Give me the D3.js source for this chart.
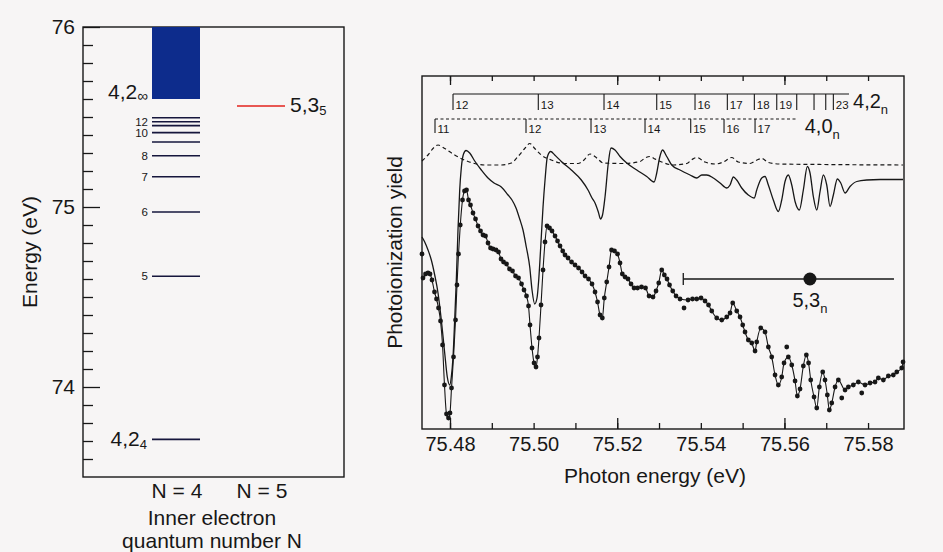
<!DOCTYPE html>
<html>
<head>
<meta charset="utf-8">
<script src="https://cdn.jsdelivr.net/npm/d3@7"></script>
<style>
  body { margin: 0; background: #f7f5f5; }
  svg { display: block; font-family: "Liberation Sans", Arial, Helvetica, sans-serif; }
</style>
</head>
<body>
<svg id="fig" width="943" height="552"></svg>
<script>
// ---------- left panel data: Rydberg levels (eV) ----------
const levelN = [4, 5, 6, 7, 8, 9, 10, 11, 12, 13];
const levelE = [73.709, 74.615, 74.972, 75.168, 75.285, 75.361, 75.413, 75.452, 75.474, 75.496];
const levelText = ["", "5", "6", "7", "8", "", "10", "", "12", ""];
const limit42 = 75.6;      // 4,2 series limit
const continuumTop = 76;
const level535 = 75.561;   // 5,3_5 perturber
const energyTicks = [74, 75, 76];
const columnN = [4, 5];

// ---------- right panel data ----------
const photonTicks = [75.48, 75.49, 75.50, 75.51, 75.52, 75.53, 75.54, 75.55, 75.56, 75.57, 75.58];
const photonLongTicks = [75.48, 75.52, 75.56];

// measured photoionization yield (arb. units)
const measured = [[75.47354,151],[75.47414,155],[75.47474,156],[75.47522,155],[75.47569,149],[75.47629,137],[75.47677,130],[75.47725,121],[75.47773,108],[75.47821,84],[75.47868,44],[75.47916,15],[75.47964,11],[75.48000,16],[75.48036,41],[75.48084,72],[75.48132,109],[75.48167,144],[75.48203,175],[75.48246,204],[75.48299,229],[75.48347,238],[75.48395,239],[75.48443,229],[75.48490,224],[75.48550,216],[75.48610,210],[75.48670,203],[75.48730,198],[75.48789,194],[75.48849,193],[75.48909,186],[75.48969,181],[75.49029,180],[75.49100,179],[75.49160,177],[75.49220,170],[75.49280,167],[75.49352,165],[75.49423,160],[75.49495,158],[75.49567,153],[75.49639,151],[75.49711,145],[75.49770,139],[75.49830,133],[75.49878,123],[75.49914,104],[75.49962,81],[75.50010,66],[75.50057,62],[75.50093,72],[75.50129,91],[75.50177,124],[75.50225,159],[75.50273,187],[75.50321,203],[75.50380,201],[75.50440,198],[75.50512,193],[75.50572,188],[75.50632,183],[75.50696,178],[75.50751,174],[75.50823,171],[75.50907,167],[75.50990,164],[75.51074,161],[75.51158,157],[75.51230,153],[75.51313,150],[75.51397,145],[75.51469,137],[75.51529,127],[75.51589,114],[75.51644,111],[75.51691,131],[75.51749,147],[75.51804,162],[75.51864,179],[75.51935,178],[75.52007,175],[75.52067,166],[75.52122,155],[75.52187,152],[75.52258,150],[75.52330,145],[75.52402,141],[75.52486,141],[75.52581,142],[75.52677,141],[75.52761,133],[75.52856,132],[75.52928,138],[75.52993,146],[75.53065,159],[75.53127,154],[75.53191,150],[75.53251,144],[75.53328,138],[75.53407,133],[75.53502,130],[75.53694,129],[75.53801,130],[75.53902,130],[75.54005,131],[75.54100,128],[75.54184,124],[75.54261,118],[75.54380,111],[75.54500,109],[75.54620,112],[75.54699,116],[75.54763,126],[75.54859,118],[75.54938,112],[75.55002,104],[75.55057,97],[75.55136,89],[75.55218,86],[75.55297,78],[75.55337,87],[75.55433,101],[75.55536,97],[75.55615,82],[75.55696,72],[75.55775,54],[75.55854,44],[75.55935,52],[75.55990,66],[75.56093,72],[75.56175,64],[75.56254,48],[75.56309,33],[75.56373,40],[75.56452,63],[75.56524,74],[75.56577,66],[75.56629,49],[75.56708,32],[75.56773,21],[75.56835,42],[75.56916,57],[75.56971,49],[75.57026,34],[75.57074,19],[75.57132,26],[75.57211,42],[75.57290,49],[75.57450,39],[75.57529,42],[75.57648,44],[75.57768,47],[75.57928,44],[75.58048,46],[75.58167,47],[75.58246,51],[75.58366,49],[75.58486,53],[75.58605,54],[75.58687,57],[75.58806,61],[75.58837,67]];
const strayPoints = [[75.47330,175],[75.53598,121],[75.56055,82],[75.57371,31],[75.57849,36]];

// calculated spectrum, solid
const theory = [[75.47330,192],[75.47395,187],[75.47474,179],[75.47553,169],[75.47634,154],[75.47713,136],[75.47792,109],[75.47873,76],[75.47935,52],[75.47993,44],[75.48031,52],[75.48072,72],[75.48112,109],[75.48151,149],[75.48191,199],[75.48232,239],[75.48270,261],[75.48323,275],[75.48383,278.5],[75.48471,276],[75.48591,268],[75.48749,259],[75.48909,251],[75.49053,246],[75.49227,242],[75.49388,234],[75.49483,229],[75.49579,221],[75.49667,210],[75.49746,199],[75.49825,182],[75.49907,162],[75.49962,139],[75.50026,125],[75.50081,131],[75.50122,149],[75.50170,182],[75.50225,222],[75.50273,249],[75.50328,272],[75.50409,277.5],[75.50505,274],[75.50663,267.5],[75.50902,259],[75.51141,249],[75.51301,239],[75.51397,231],[75.51469,226],[75.51548,217],[75.51600,210],[75.51648,214],[75.51708,232],[75.51787,266],[75.51852,281],[75.51947,279],[75.52067,272.5],[75.52227,266],[75.52467,259],[75.52706,252.5],[75.52880,247],[75.52945,256],[75.53012,271],[75.53084,279],[75.53184,272.5],[75.53304,264],[75.53502,259],[75.53742,254],[75.53902,251],[75.54022,254],[75.54141,254],[75.54299,251],[75.54459,246],[75.54620,241],[75.54699,244],[75.54778,252],[75.54859,249],[75.54978,241],[75.55136,234],[75.55280,231],[75.55337,239],[75.55457,251],[75.55536,252.5],[75.55615,244],[75.55734,229],[75.55854,217.5],[75.55935,229],[75.56014,247.5],[75.56093,254],[75.56175,244],[75.56254,227.5],[75.56357,219],[75.56452,239],[75.56548,262.5],[75.56612,256],[75.56691,232.5],[75.56773,219],[75.56852,237.5],[75.56931,254],[75.57012,244],[75.57091,222.5],[75.57170,234],[75.57266,250],[75.57347,246],[75.57450,236],[75.57569,242.5],[75.57730,247.5],[75.57969,249],[75.58287,249.5],[75.58837,249.5]];

// calculated spectrum, dashed
const theoryDashed = [[75.47330,268],[75.47474,274],[75.47593,280.5],[75.47713,284],[75.47873,280.5],[75.48112,274],[75.48431,267.5],[75.48830,264],[75.49227,264],[75.49467,266],[75.49627,272.5],[75.49787,280.5],[75.49907,285.5],[75.50026,280.5],[75.50184,274],[75.50423,269],[75.50744,265.5],[75.51062,265.5],[75.51206,269],[75.51349,275],[75.51510,271],[75.51667,266],[75.52146,265.5],[75.52545,267.5],[75.52665,271],[75.52785,272.5],[75.52904,270],[75.53065,267],[75.53342,264],[75.53663,265.5],[75.53789,269.5],[75.53902,271.5],[75.54100,267],[75.54340,265],[75.54538,267],[75.54739,271.5],[75.54897,267],[75.55177,265.5],[75.55344,269],[75.55457,270.5],[75.55615,266.5],[75.55895,265],[75.56931,264.5],[75.58837,264]];

// series markers
const series42N = [12, 13, 14, 15, 16, 17, 18, 19, 20, 21, 22, 23];
const series42E = [75.48072, 75.50112, 75.51684, 75.52945, 75.53861, 75.54634, 75.55280, 75.55816, 75.56294, 75.56708, 75.56988, 75.57170];
const series42Shown = [12, 13, 14, 15, 16, 17, 18, 19, 23];
const series42End = 75.57545;
const series40N = [11, 12, 13, 14, 15, 16, 17];
const series40E = [75.47641, 75.49818, 75.51373, 75.52665, 75.53758, 75.54555, 75.55297];
const series40End = 75.56294;

// 5,3_n perturber position with width
const perturberE = 75.5661;
const perturberLo = 75.5358;
const perturberHi = 75.5862;
const perturberYield = 150;

// ---------- drawing ----------
const ink = "#171717";
const svg = d3.select("#fig");
svg.append("rect").attr("width", 943).attr("height", 552).attr("fill", "#f7f5f5");

function subText(g, x, y, main, sub, opt) {
  const o = Object.assign({ size: 21, subSize: 13, subDy: 5, anchor: "start" }, opt || {});
  const t = g.append("text")
      .attr("x", x).attr("y", y)
      .attr("text-anchor", o.anchor)
      .attr("fill", ink)
      .attr("font-size", o.size);
  t.append("tspan").text(main);
  t.append("tspan").attr("dy", o.subDy).attr("font-size", o.subSize).text(sub);
  return t;
}

// ===== left panel =====
const L = { left: 83, top: 27, width: 261, height: 450 };
const yE = d3.scaleLinear().domain([73.5, continuumTop]).range([L.top + L.height, L.top]);
const xN = d3.scaleLinear().domain([4, 5]).range([176, 261]);
const lp = svg.append("g");

// minor ticks every 0.1 eV
const minorE = d3.range(736, 760).map(d => d / 10).filter(d => Math.abs(d - Math.round(d)) > 0.01);
lp.append("g")
    .attr("transform", `translate(${L.left},0)`)
    .call(d3.axisLeft(yE).tickValues(minorE).tickSize(-10).tickFormat(""));
const majorAxis = lp.append("g")
    .attr("transform", `translate(${L.left},0)`)
    .call(d3.axisLeft(yE).tickValues(energyTicks).tickSize(-17).tickPadding(8).tickFormat(d3.format("d")));
lp.selectAll(".domain").remove();
lp.selectAll(".tick line").attr("stroke", ink).attr("stroke-width", 1.3);
majorAxis.selectAll("text").attr("font-size", 21).attr("fill", ink)
    .attr("font-family", "Liberation Sans, Arial, sans-serif");

lp.append("rect")
    .attr("x", L.left).attr("y", L.top)
    .attr("width", L.width).attr("height", L.height)
    .attr("fill", "none").attr("stroke", ink).attr("stroke-width", 1.4);

// continuum above the 4,2 limit
const halfW = 24;
lp.append("rect")
    .attr("x", xN(4) - halfW).attr("y", yE(continuumTop))
    .attr("width", halfW * 2).attr("height", yE(limit42) - yE(continuumTop))
    .attr("fill", "#0d2c8c");

// bound levels
lp.selectAll(".lvl")
    .data(levelE)
    .join("line")
    .attr("class", "lvl")
    .attr("x1", xN(4) - halfW).attr("x2", xN(4) + halfW)
    .attr("y1", d => yE(d)).attr("y2", d => yE(d))
    .attr("stroke", "#16163c").attr("stroke-width", 1.6);

lp.selectAll(".lvlLabel")
    .data(levelE.map((e, i) => ({ e, t: levelText[i] })).filter(d => d.t !== ""))
    .join("text")
    .attr("class", "lvlLabel")
    .attr("x", xN(4) - halfW - 4)
    .attr("y", d => yE(d.e))
    .attr("dy", "0.34em")
    .attr("text-anchor", "end")
    .attr("font-size", 11.5)
    .attr("fill", ink)
    .text(d => d.t);

subText(lp, xN(4) - halfW - 4, yE(limit42), "4,2", "\u221E", { anchor: "end", subSize: 15, subDy: 2 });
subText(lp, xN(4) - halfW - 5, yE(levelE[0]) + 7, "4,2", "4", { anchor: "end", subDy: 3 });

// 5,3_5 level
lp.append("line")
    .attr("x1", xN(5) - halfW).attr("x2", xN(5) + halfW)
    .attr("y1", yE(level535)).attr("y2", yE(level535))
    .attr("stroke", "#e3221d").attr("stroke-width", 1.4);
subText(lp, xN(5) + halfW + 5, yE(level535) + 6, "5,3", "5", { subDy: 3 });

// x labels and titles
lp.selectAll(".colLabel")
    .data(columnN)
    .join("text")
    .attr("class", "colLabel")
    .attr("x", d => xN(d) + 1)
    .attr("y", 498)
    .attr("text-anchor", "middle")
    .attr("font-size", 21)
    .attr("fill", ink)
    .text(d => `N = ${d}`);
lp.append("text").attr("x", 212).attr("y", 525).attr("text-anchor", "middle")
    .attr("font-size", 21).attr("fill", ink).text("Inner electron");
lp.append("text").attr("x", 212).attr("y", 548).attr("text-anchor", "middle")
    .attr("font-size", 21).attr("fill", ink).text("quantum number N");
lp.append("text")
    .attr("transform", `translate(37,${L.top + L.height / 2}) rotate(-90)`)
    .attr("text-anchor", "middle").attr("font-size", 21).attr("fill", ink)
    .text("Energy (eV)");

// ===== right panel =====
const R = { left: 422, top: 76, width: 482, height: 353 };
const xP = d3.scaleLinear().domain([75.4733, 75.5886]).range([R.left, R.left + R.width]);
const yY = d3.scaleLinear().domain([0, 353]).range([R.top + R.height, R.top]);
const rp = svg.append("g");

const bottomAxis = rp.append("g")
    .attr("transform", `translate(0,${R.top + R.height})`)
    .call(d3.axisBottom(xP).tickValues(photonTicks).tickSize(-6).tickPadding(8)
        .tickFormat(d => (Math.round(d * 100) % 2 === 0 ? d3.format(".2f")(d) : "")));
rp.append("g")
    .attr("transform", `translate(0,${R.top + R.height})`)
    .call(d3.axisBottom(xP).tickValues(photonLongTicks).tickSize(-11).tickFormat(""));
rp.append("g")
    .attr("transform", `translate(0,${R.top})`)
    .call(d3.axisTop(xP).tickValues(photonTicks).tickSize(-5).tickFormat(""));
rp.append("g")
    .attr("transform", `translate(0,${R.top})`)
    .call(d3.axisTop(xP).tickValues(photonLongTicks).tickSize(-9).tickFormat(""));
rp.selectAll(".domain").remove();
rp.selectAll(".tick line").attr("stroke", ink).attr("stroke-width", 1.3);
bottomAxis.selectAll("text").attr("font-size", 20).attr("fill", ink)
    .attr("font-family", "Liberation Sans, Arial, sans-serif");

rp.append("rect")
    .attr("x", R.left).attr("y", R.top)
    .attr("width", R.width).attr("height", R.height)
    .attr("fill", "none").attr("stroke", ink).attr("stroke-width", 1.4);

const line = d3.line()
    .x(d => xP(d[0]))
    .y(d => yY(d[1]))
    .curve(d3.curveMonotoneX);

rp.append("path").datum(theoryDashed)
    .attr("d", line).attr("fill", "none")
    .attr("stroke", ink).attr("stroke-width", 1.2).attr("stroke-dasharray", "4,3");
rp.append("path").datum(theory)
    .attr("d", line).attr("fill", "none")
    .attr("stroke", ink).attr("stroke-width", 1.3);
rp.append("path").datum(measured)
    .attr("d", line).attr("fill", "none")
    .attr("stroke", ink).attr("stroke-width", 1.1);
rp.selectAll(".pt")
    .data(measured.concat(strayPoints))
    .join("circle")
    .attr("class", "pt")
    .attr("cx", d => xP(d[0])).attr("cy", d => yY(d[1]))
    .attr("r", 2.4).attr("fill", ink);

// 4,2_n series bar
const row42 = 94, row40 = 119;
rp.append("line")
    .attr("x1", xP(series42E[0])).attr("x2", xP(series42End))
    .attr("y1", row42).attr("y2", row42)
    .attr("stroke", ink).attr("stroke-width", 1.2);
rp.selectAll(".t42")
    .data(series42E)
    .join("line")
    .attr("class", "t42")
    .attr("x1", d => xP(d)).attr("x2", d => xP(d))
    .attr("y1", row42).attr("y2", row42 + 16)
    .attr("stroke", ink).attr("stroke-width", 1.1);
rp.selectAll(".l42")
    .data(series42N.map((n, i) => ({ n, e: series42E[i] })).filter(d => series42Shown.includes(d.n)))
    .join("text")
    .attr("class", "l42")
    .attr("x", d => xP(d.e) + 2.5).attr("y", row42 + 15)
    .attr("font-size", 11.5).attr("fill", ink)
    .text(d => d.n);
subText(rp, xP(series42End) + 4, row42 + 14, "4,2", "n", { size: 20, subDy: 6 });

// 4,0_n series bar (dashed)
rp.append("line")
    .attr("x1", xP(series40E[0])).attr("x2", xP(series40End))
    .attr("y1", row40).attr("y2", row40)
    .attr("stroke", ink).attr("stroke-width", 1.2).attr("stroke-dasharray", "3,2.5");
rp.selectAll(".t40")
    .data(series40E)
    .join("line")
    .attr("class", "t40")
    .attr("x1", d => xP(d)).attr("x2", d => xP(d))
    .attr("y1", row40).attr("y2", row40 + 14)
    .attr("stroke", ink).attr("stroke-width", 1.1);
rp.selectAll(".l40")
    .data(series40N.map((n, i) => ({ n, e: series40E[i] })))
    .join("text")
    .attr("class", "l40")
    .attr("x", d => xP(d.e) + 2.5).attr("y", row40 + 14)
    .attr("font-size", 11.5).attr("fill", ink)
    .text(d => d.n);
subText(rp, xP(series40End) + 8, row40 + 14, "4,0", "n", { size: 20, subDy: 6 });

// 5,3_n marker
const py = yY(perturberYield);
rp.append("line")
    .attr("x1", xP(perturberLo)).attr("x2", xP(perturberHi))
    .attr("y1", py).attr("y2", py)
    .attr("stroke", ink).attr("stroke-width", 1.3);
rp.append("line")
    .attr("x1", xP(perturberLo)).attr("x2", xP(perturberLo))
    .attr("y1", py - 6).attr("y2", py + 6)
    .attr("stroke", ink).attr("stroke-width", 1.3);
rp.append("circle")
    .attr("cx", xP(perturberE)).attr("cy", py).attr("r", 6.5).attr("fill", ink);
subText(rp, xP(perturberE), py + 28, "5,3", "n", { size: 20, subDy: 6, anchor: "middle" });

// titles
rp.append("text")
    .attr("x", R.left + R.width / 2 - 8).attr("y", 483)
    .attr("text-anchor", "middle").attr("font-size", 21).attr("fill", ink)
    .text("Photon energy (eV)");
rp.append("text")
    .attr("transform", `translate(402,${R.top + R.height / 2}) rotate(-90)`)
    .attr("text-anchor", "middle").attr("font-size", 21).attr("fill", ink)
    .text("Photoionization yield");
</script>
</body>
</html>
